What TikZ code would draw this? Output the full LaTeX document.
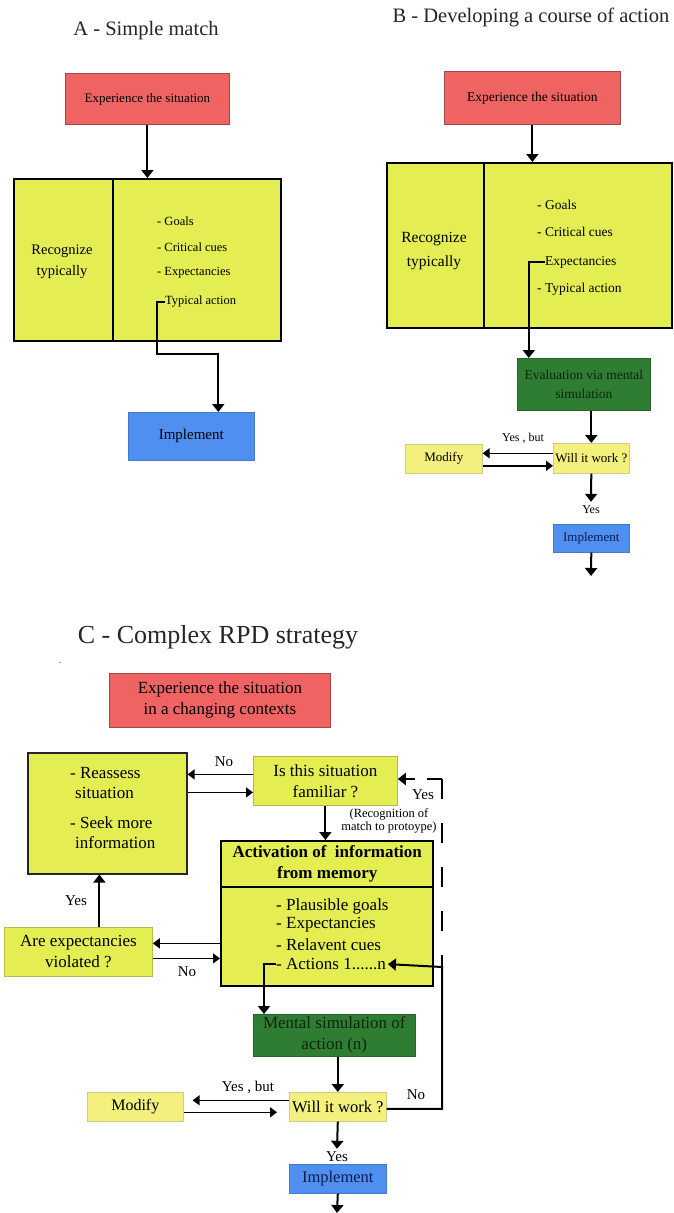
\documentclass[tikz,border=0pt]{standalone}
\usepackage{fontspec}
\setmainfont{Liberation Serif}
\usetikzlibrary{arrows.meta,calc}
\definecolor{redbox}{HTML}{F06363}
\definecolor{redline}{HTML}{A24848}
\definecolor{yel}{HTML}{E4EE52}
\definecolor{ltyel}{HTML}{F3F07D}
\definecolor{yline}{HTML}{B9B84E}
\definecolor{grn}{HTML}{2F7D32}
\definecolor{blu}{HTML}{4F8FEF}
\definecolor{navy}{HTML}{101A50}
\definecolor{dkgrn}{HTML}{0E2410}
\newcommand{\fs}[1]{\fontsize{#1}{#1}\selectfont}
\begin{document}
\begin{tikzpicture}[x=1pt,y=-1pt,
  box/.style={draw, anchor=north west, inner sep=0pt, align=center},
  redn/.style={box, fill=redbox, draw=redline, line width=0.8pt},
  bigy/.style={box, fill=yel, draw=black, line width=2pt},
  midy/.style={box, fill=yel, draw=yline, line width=0.8pt},
  lty/.style={box, fill=ltyel, draw=yline!70, line width=0.6pt},
  grnb/.style={box, fill=grn, draw=grn!80!black, line width=0.6pt, text=dkgrn},
  blub/.style={box, fill=blu, draw=blu!85!black, line width=0.6pt},
  txt/.style={inner sep=0pt, anchor=west},
  lbl/.style={inner sep=0pt},
  ttl/.style={inner sep=0pt, text=black!85},
  arr/.style={-{Triangle[length=8pt,width=12pt]}, line width=2pt},
  arrt/.style={-{Triangle[length=7pt,width=10pt]}, line width=1.4pt},
]
\useasboundingbox[fill=white] (0,0) rectangle (673,1213);

% ---------------- Panel A ----------------
\node[ttl, font=\fs{20.5}] (titA) at (146,31) {A - Simple match};
\node[redn, minimum width=164pt, minimum height=51pt, font=\fs{13}] (expA) at (65,73) {Experience the situation};
\node[bigy, minimum width=99pt, minimum height=162pt] (recA) at (13,178) {};
\node[lbl, align=center, font=\fs{14.5}] (recAt) at (62,262) {Recognize\\[6pt]typically};
\node[bigy, minimum width=168pt, minimum height=162pt] (lstA) at (112,178) {};
\node[txt, font=\fs{12.5}] (goA) at (157,221) {- Goals};
\node[txt, font=\fs{12.5}] (ccA) at (157,247) {- Critical cues};
\node[txt, font=\fs{12.5}] (exA) at (157,273) {- Expectancies};
\node[txt, font=\fs{12.5}] (tyA) at (165,302) {Typical action};
\node[blub, minimum width=126pt, minimum height=48pt, font=\fs{15}] (impA) at (128,412) {Implement};
\draw[arr] (expA.south) -- (expA.south |- lstA.north);
\draw[arr] (tyA.west) -- ++(-8,0) -- ++(0,52) -| ([xshift=27pt]impA.north);

% ---------------- Panel B ----------------
\node[ttl, font=\fs{20.5}] (titB) at (531,17) {B - Developing a course of  action};
\node[redn, minimum width=176pt, minimum height=53pt, font=\fs{13.5}] (expB) at (444,71) {Experience the situation};
\node[bigy, minimum width=97pt, minimum height=165pt] (recB) at (386,162) {};
\node[lbl, align=center, font=\fs{15.5}] (recBt) at (434,251) {Recognize\\[8pt]typically};
\node[bigy, minimum width=188pt, minimum height=165pt] (lstB) at (483,162) {};
\node[txt, font=\fs{13.5}] (goB) at (537,205) {- Goals};
\node[txt, font=\fs{13.5}] (ccB) at (537,232) {- Critical cues};
\node[txt, font=\fs{13.5}] (exB) at (545,262) {Expectancies};
\node[txt, font=\fs{13.5}] (tyB) at (537,289) {- Typical action};
\draw[arr] (expB.south) -- (expB.south |- lstB.north);
\node[grnb, minimum width=133pt, minimum height=52pt, font=\fs{13.5}] (evB) at (517,358) {Evaluation via mental\\[5pt]simulation};
\draw[arr] (exB.west) -| ([xshift=-55pt]evB.north);
\node[lty, minimum width=76pt, minimum height=30pt, font=\fs{13}] (wiB) at (553,443) {Will it work ?};
\node[lty, minimum width=77pt, minimum height=29pt, font=\fs{13}] (moB) at (405,444) {Modify};
\draw[arr] (wiB.north |- evB.south) -- (wiB.north);
\draw[arrt] ([yshift=5pt]wiB.west) -- ([yshift=5pt]wiB.west -| moB.east);
\draw[arrt] ([yshift=-7pt]moB.east) -- ([yshift=-7pt]moB.east -| wiB.west);
\node[lbl, font=\fs{12}] (ybB) at (523,438) {Yes , but};
\node[lbl, font=\fs{12}] (yesB) at (591,510) {Yes};
\draw[arr] (wiB.south) -- ([yshift=4pt]yesB.north);
\node[blub, minimum width=76pt, minimum height=28pt, font=\fs{13}, text=navy] (imB) at (553,524) {Implement};
\coordinate (endB) at (591,576);
\draw[arr] (imB.south) -- (endB);

% ---------------- Panel C ----------------
\node[ttl, font=\fs{26}] (titC) at (218,637) {C - Complex RPD strategy};
\node[lbl, text=black!60, font=\fs{12}] (dotC) at (60,663) {.};
\node[redn, minimum width=221pt, minimum height=54pt, font=\fs{17}] (expC) at (109,673) {Experience the situation\\[4pt]in a changing contexts};
\node[box, fill=yel, draw=black!85, line width=1.6pt, minimum width=159pt, minimum height=121pt] (reaC) at (27,752) {};
\node[txt, font=\fs{17}] (r1) at (70,773) {- Reassess};
\node[txt, font=\fs{17}] (r2) at (75,793) {situation};
\node[txt, font=\fs{17}] (r3) at (70,823) {- Seek more};
\node[txt, font=\fs{17}] (r4) at (75,843) {information};
\node[midy, minimum width=144pt, minimum height=49pt, font=\fs{17}] (isC) at (253,756) {Is this situation\\[4pt]familiar ?};
\draw[arrt] ([yshift=6.5pt]isC.west) -- ([yshift=6.5pt]isC.west -| reaC.east);
\draw[arrt] ([yshift=-11.5pt]reaC.east |- isC.center) -- ([yshift=-11.5pt]isC.west);
\node[lbl, font=\fs{15}] (noC1) at (224,762) {No};
\node[lbl, font=\fs{15}] (yesC1) at (423,795) {Yes};
\node[lbl, font=\fs{12.5}, align=center] (recog) at (389,821) {(Recognition of\\[1pt]match to protoype)};
\node[box, fill=yel, draw=black, line width=2.4pt, minimum width=212pt, minimum height=46pt, font=\bfseries\fs{17}] (actH) at (220,840) {Activation of\ \ information\\[4pt]from memory};
\node[box, fill=yel, draw=black, line width=2.4pt, minimum width=212pt, minimum height=99pt] (actL) at (220,886) {};
\draw[arr] (isC.south) -- (isC.south |- actH.north);
\node[txt, font=\fs{17}] (pg) at (276,906) {- Plausible goals};
\node[txt, font=\fs{17}] (ex) at (276,925) {- Expectancies};
\node[txt, font=\fs{17}] (rc) at (276,945) {- Relavent cues};
\node[txt, font=\fs{17}] (an) at (276,964) {- Actions 1......n};
\node[midy, minimum width=148pt, minimum height=49pt, font=\fs{17}] (areC) at (4,927) {Are expectancies\\[4pt]violated ?};
\draw[arrt] ([yshift=8.5pt]areC.east -| actL.west) -- ([yshift=8.5pt]areC.east);
\draw[arrt] ([yshift=-6.5pt]areC.east) -- ([yshift=-6.5pt]areC.east -| actL.west);
\node[lbl, font=\fs{15}] (noC2) at (187,972) {No};
\draw[arr] ([xshift=21pt]areC.north) -- ([xshift=21pt]areC.north |- reaC.south);
\node[lbl, font=\fs{15}] (yesC2) at (76,901) {Yes};
\node[grnb, minimum width=162pt, minimum height=42pt, font=\fs{17}] (msC) at (253,1014) {Mental simulation of\\[4pt]action (n)};
\draw[arr] (an.west) -- ++(-12,0) -- ([xshift=11pt]msC.north west);
\node[lty, minimum width=97pt, minimum height=29pt, font=\fs{16.5}] (wiC) at (289,1092) {Will it work ?};
\node[lty, minimum width=96pt, minimum height=29pt, font=\fs{16}] (moC) at (87,1092) {Modify};
\draw[arr] (wiC.north |- msC.south) -- (wiC.north);
\draw[arrt, shorten >=9pt] ([yshift=6.5pt]wiC.west) -- ([yshift=6.5pt]wiC.west -| moC.east);
\draw[arrt, shorten >=12pt] ([yshift=-5.5pt]moC.east) -- ([yshift=-5.5pt]moC.east -| wiC.west);
\node[lbl, font=\fs{15}] (ybC) at (248,1087) {Yes , but};
\node[lbl, font=\fs{15}] (noC3) at (416,1095) {No};
\coordinate (loopC) at (442,967);
\coordinate (dashC) at (442,779);
\draw[arr, shorten >=2pt] ([yshift=-2pt]wiC.east) -| (loopC) -- (an.east);
\draw[line width=2pt, dash pattern=on 20pt off 24pt] (dashC) -- (loopC);
\draw[arr, dash pattern=on 15pt off 12pt] (dashC) -- (dashC -| isC.east);
\node[lbl, font=\fs{15}] (yesC) at (337,1157) {Yes};
\draw[arr] (wiC.south) -- ([yshift=3pt]yesC.north);
\node[blub, minimum width=97pt, minimum height=29pt, font=\fs{16.5}, text=navy] (imC) at (289,1164) {Implement};
\coordinate (endC) at (337,1213);
\draw[arr] (imC.south) -- (endC);
\end{tikzpicture}
\end{document}
